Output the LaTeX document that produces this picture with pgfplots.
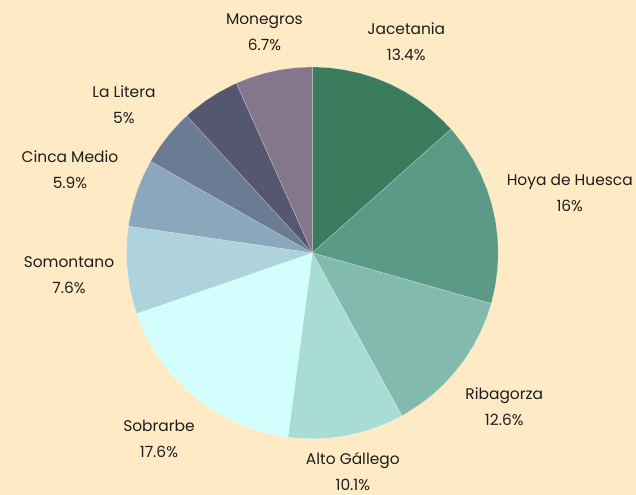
\documentclass[border=0pt]{standalone}
\usepackage{pgfplots}
\pgfplotsset{compat=1.18}
\usepackage{fontspec}
\setmainfont{Poppins}
\definecolor{bg}{HTML}{FEEAC5}
\definecolor{txt}{HTML}{1E1E1E}
\definecolor{cA}{HTML}{3B7B5E}
\definecolor{cB}{HTML}{5B9A86}
\definecolor{cC}{HTML}{82BBAE}
\definecolor{cD}{HTML}{AADCD6}
\definecolor{cE}{HTML}{D2FFFE}
\definecolor{cF}{HTML}{AED3DD}
\definecolor{cG}{HTML}{8AA7BC}
\definecolor{cH}{HTML}{6C7B94}
\definecolor{cI}{HTML}{555670}
\definecolor{cJ}{HTML}{84778C}
\begin{document}
\begin{tikzpicture}
\begin{axis}[
  width=636bp, height=495bp, scale only axis,
  xmin=-312.5, xmax=323.5, ymin=-242, ymax=253,
  hide axis, clip=false,
  axis background/.style={fill=bg},
  every axis plot/.append style={data cs=polar, draw=white, draw opacity=0.35, line width=0.5pt, no markers},
]
% Jacetania 13.4%
\addplot[fill=cA] coordinates {(0,0) (90,186) (85,186) (80,186) (75,186) (70,186) (65,186) (60,186) (55,186) (50,186) (45,186) (41.76,186) (0,0)};
% Hoya de Huesca 16%
\addplot[fill=cB] coordinates {(0,0) (41.76,186) (40,186) (35,186) (30,186) (25,186) (20,186) (15,186) (10,186) (5,186) (0,186) (-5,186) (-10,186) (-15,186) (-15.84,186) (0,0)};
% Ribagorza 12.6%
\addplot[fill=cC] coordinates {(0,0) (-15.84,186) (-20,186) (-25,186) (-30,186) (-35,186) (-40,186) (-45,186) (-50,186) (-55,186) (-60,186) (-61.2,186) (0,0)};
% Alto Gallego 10.1%
\addplot[fill=cD] coordinates {(0,0) (-61.2,186) (-65,186) (-70,186) (-75,186) (-80,186) (-85,186) (-90,186) (-95,186) (-97.56,186) (0,0)};
% Sobrarbe 17.6%
\addplot[fill=cE] coordinates {(0,0) (-97.56,186) (-100,186) (-105,186) (-110,186) (-115,186) (-120,186) (-125,186) (-130,186) (-135,186) (-140,186) (-145,186) (-150,186) (-155,186) (-160,186) (-160.92,186) (0,0)};
% Somontano 7.6%
\addplot[fill=cF] coordinates {(0,0) (-160.92,186) (-165,186) (-170,186) (-175,186) (-180,186) (-185,186) (-188.28,186) (0,0)};
% Cinca Medio 5.9%
\addplot[fill=cG] coordinates {(0,0) (-188.28,186) (-190,186) (-195,186) (-200,186) (-205,186) (-209.52,186) (0,0)};
% La Litera 5%
\addplot[fill=cH] coordinates {(0,0) (-209.52,186) (-210,186) (-215,186) (-220,186) (-225,186) (-227.52,186) (0,0)};
% unlabeled 5.1%
\addplot[fill=cI] coordinates {(0,0) (-227.52,186) (-230,186) (-235,186) (-240,186) (-245,186) (-245.88,186) (0,0)};
% Monegros 6.7%
\addplot[fill=cJ] coordinates {(0,0) (-245.88,186) (-250,186) (-255,186) (-260,186) (-265,186) (-270,186) (0,0)};
\begin{scope}[every node/.style={align=center, text=txt, font=\fontsize{15.5}{26}\selectfont}]
\node at (axis cs:-48,221) {Monegros\\6.7\%};
\node at (axis cs:94,211.5) {Jacetania\\13.4\%};
\node at (axis cs:257.5,60) {Hoya de Huesca\\16\%};
\node at (axis cs:192,-153.5) {Ribagorza\\12.6\%};
\node at (axis cs:40.5,-218.5) {Alto Gállego\\10.1\%};
\node at (axis cs:-153.5,-186.5) {Sobrarbe\\17.6\%};
\node at (axis cs:-243.5,-22.5) {Somontano\\7.6\%};
\node at (axis cs:-242.5,83) {Cinca Medio\\5.9\%};
\node at (axis cs:-188.5,148.5) {La Litera\\5\%};
\end{scope}
\end{axis}
\end{tikzpicture}
\end{document}
